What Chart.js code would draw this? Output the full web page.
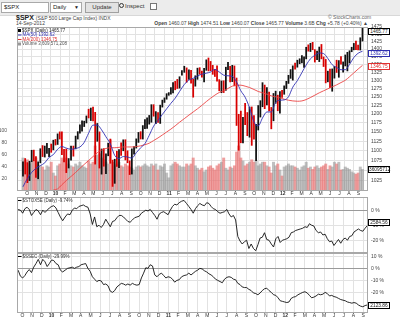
<!DOCTYPE html>
<html>
<head>
<meta charset="utf-8">
<script src="https://cdn.jsdelivr.net/npm/chart.js@4.4.0/dist/chart.umd.min.js"></script>
<style>
body { margin: 0; width: 400px; height: 322px; background: #fff; position: relative; overflow: hidden; font-family: "Liberation Sans", Arial, sans-serif; color: #222; }
.abs { position: absolute; white-space: nowrap; }
canvas { position: absolute; left: 0; }
#toolbar { left: 0; top: 0; width: 400px; height: 15px; background: #ececec; border-bottom: 1px solid #d8d8d8; }
.field { position: absolute; top: 2px; height: 9px; border: 1px solid #a9a9a9; background: #fff; font-size: 6px; line-height: 9px; padding-left: 2px; box-sizing: content-box; }
.btn { position: absolute; top: 2px; height: 9px; border: 1px solid #a0a0a0; background: #e2e2e2; font-size: 6px; line-height: 9px; text-align: center; color: #333; }
.small { font-size: 5px; line-height: 5px; }
.leg { font-size: 9px; line-height: 9px; transform: scale(0.5); transform-origin: 0 0; }
.ic { display: inline-block; width: 6px; height: 6px; margin-right: 2px; vertical-align: middle; }
.ln { display: inline-block; width: 7px; height: 2px; margin-right: 2px; vertical-align: middle; }
.vbox { position: absolute; left: 368px; width: 20px; height: 5px; border: 1px solid #000; background: #fff; font-size: 4.8px; line-height: 5px; text-align: center; }
</style>
</head>
<body>
<div id="toolbar" class="abs">
  <div class="field" style="left:1px;width:44px">$SPX</div>
  <div class="field" style="left:50px;width:28px">Daily <span style="position:absolute;right:2px;font-size:5px">&#9660;</span></div>
  <div class="btn" style="left:85px;width:32px">Update</div>
  <div class="abs" style="left:119px;top:3px;font-size:6px;line-height:7px;color:#333"><span style="display:inline-block;width:3px;height:3px;border:1px solid #333;border-radius:50%;margin-right:1px"></span>Inspect</div>
  <div class="abs" style="left:150px;top:3px;width:5px;height:5px;border:1px solid #777;background:#fff"></div>
</div>

<div class="abs" style="left:16px;top:14px;font-size:7px;line-height:7px"><b>$SPX</b> <span style="font-size:5px;color:#444">(S&amp;P 500 Large Cap Index) INDX</span></div>
<div class="abs small" style="left:16px;top:21px;color:#444">14-Sep-2012</div>
<div class="abs small" style="left:328px;top:15px;color:#666">&copy; StockCharts.com</div>
<div class="abs small" style="right:32px;top:21px;color:#444"><b>Open</b> 1460.07 <b>High</b> 1474.51 <b>Low</b> 1460.07 <b>Close</b> 1465.77 <b>Volume</b> 3.6B <b>Chg</b> +5.78 (+0.40%) &#9650;</div>

<canvas id="main" width="400" height="177" style="top:20px;width:400px;height:177px"></canvas>
<canvas id="stoxx" width="400" height="56" style="top:197px;width:400px;height:56px"></canvas>
<canvas id="ssec" width="400" height="69" style="top:253px;width:400px;height:69px"></canvas>

<div class="abs leg" style="left:18px;top:28px">
  <div><span class="ic" style="background:#000"></span>$SPX (Daily) 1465.77</div>
  <div style="color:#3030b0"><span class="ln" style="background:#3030b0"></span>MA(50) 1392.62</div>
  <div style="color:#e03030"><span class="ln" style="background:#e03030"></span>MA(200) 1346.75</div>
  <div style="color:#555"><span class="ic" style="background:#999"></span>Volume 3,609,571,208</div>
</div>
<div class="abs leg" style="left:18px;top:198px;color:#333"><span class="ln" style="background:#000"></span>$STOX5E (Daily) -9.74%</div>
<div class="abs leg" style="left:18px;top:254px;color:#333"><span class="ln" style="background:#000"></span>$SSEC (Daily) -29.99%</div>

<div class="vbox" style="top:28px">1465.77</div>
<div class="vbox" style="top:50px;border-color:#3030b0;color:#3030b0">1392.62</div>
<div class="vbox" style="top:63px;border-color:#e03030;color:#e03030">1346.75</div>
<div class="vbox" style="top:166px">36095712</div>
<div class="vbox" style="top:219px">2584.56</div>
<div class="vbox" style="top:302px">2123.86</div>

<script>
// weekly bars, Fridays from 18-Sep-2009 to 14-Sep-2012
const weekCount = 157
const firstFriday = Date.UTC(2009, 8, 18)

const monthLabels = ['O','N','D','10','F','M','A','M','J','J','A','S','O','N','D','11','F','M','A','M','J','J','A','S','O','N','D','12','F','M','A','M','J','J','A','S']
const priceTicks = [1025, 1050, 1075, 1100, 1125, 1150, 1175, 1200, 1225, 1250, 1275, 1300, 1325, 1350, 1375, 1400, 1425, 1450, 1475]
const volumeTicks = [20, 40, 60, 80, 100]
const stoxxTicks = [0, -10, -20]
const ssecTicks = [10, 0, -10, -20]

const spxHigh = [
  1071.5, 1080.0, 1069.6, 1073.0, 1101.4, 1101.8, 1085.0, 1071.5, 1105.4, 1113.7, 1112.4, 1119.7, 1106.5, 1117.7, 1128.0, 1130.0,
  1145.0, 1150.4, 1150.5, 1103.7, 1104.7, 1080.0, 1112.0, 1112.4, 1139.0, 1151.0, 1170.0, 1181.0, 1180.0, 1194.7, 1213.9, 1217.3, 1219.8,
  1205.0, 1173.6, 1150.4, 1104.7, 1105.7, 1092.0, 1120.0, 1131.0, 1076.0, 1078.2, 1099.0, 1103.0, 1121.0, 1129.0, 1129.2, 1100.0, 1074.0,
  1105.0, 1110.9, 1131.5, 1148.9, 1151.0, 1167.7, 1184.4, 1189.4, 1196.1, 1227.0, 1227.0, 1207.0, 1204.5, 1225.6, 1240.4, 1247.0, 1259.4, 1262.6,
  1278.0, 1293.2, 1296.7, 1302.7, 1311.0, 1330.0, 1344.0, 1338.8, 1332.3, 1331.0, 1303.0, 1314.0, 1337.9, 1339.5, 1328.6, 1337.5, 1364.6,
  1370.6, 1359.4, 1346.8, 1334.0, 1345.2, 1302.0, 1298.0, 1298.6, 1341.0, 1356.5, 1343.8, 1347.0, 1345.0, 1307.0, 1199.4, 1208.5, 1190.7,
  1230.7, 1204.4, 1220.0, 1220.4, 1195.9, 1171.4, 1224.6, 1238.7, 1292.7, 1285.4, 1277.6, 1264.2, 1219.0, 1260.0, 1267.0, 1255.0, 1265.4, 1269.4,
  1283.0, 1296.8, 1315.5, 1333.5, 1345.3, 1354.0, 1363.4, 1368.0, 1378.0, 1374.0, 1405.9, 1414.0, 1419.2, 1422.4, 1398.0, 1392.8, 1406.6,
  1415.3, 1373.9, 1365.9, 1328.5, 1334.9, 1335.5, 1343.3, 1363.5, 1362.2, 1374.8, 1357.9, 1380.4, 1389.2, 1394.2, 1405.9, 1418.7, 1426.7, 1413.5,
  1437.9, 1474.5
]
const spxLow = [
  1036.0, 1041.0, 1019.9, 1025.0, 1072.0, 1074.0, 1033.0, 1029.4, 1069.0, 1085.0, 1083.7, 1093.0, 1085.0, 1096.0, 1102.5, 1115.0,
  1116.6, 1131.0, 1090.0, 1071.6, 1044.5, 1056.0, 1075.5, 1086.0, 1105.0, 1131.0, 1147.0, 1152.6, 1165.0, 1175.0, 1189.0, 1181.6, 1181.0,
  1065.8, 1125.0, 1055.9, 1040.8, 1060.5, 1042.2, 1087.0, 1067.9, 1010.9, 1018.3, 1060.0, 1056.9, 1088.0, 1100.0, 1076.3, 1069.2, 1039.7,
  1040.9, 1091.0, 1107.0, 1122.0, 1131.0, 1131.0, 1159.0, 1159.7, 1171.7, 1177.0, 1194.0, 1173.0, 1176.8, 1173.6, 1220.0, 1233.5, 1243.0, 1254.5,
  1257.6, 1262.0, 1271.0, 1275.0, 1276.0, 1316.0, 1324.6, 1294.0, 1302.6, 1291.0, 1249.0, 1282.0, 1303.0, 1318.9, 1309.7, 1294.7, 1331.0,
  1329.2, 1330.0, 1318.5, 1311.8, 1297.0, 1268.0, 1262.3, 1262.7, 1269.4, 1333.5, 1295.0, 1295.9, 1282.9, 1168.0, 1101.5, 1121.1, 1121.0,
  1170.5, 1140.0, 1136.0, 1114.2, 1131.0, 1074.8, 1155.5, 1191.5, 1221.0, 1215.4, 1226.6, 1209.0, 1158.7, 1181.0, 1231.0, 1209.5, 1202.4, 1248.6,
  1257.6, 1274.6, 1290.3, 1306.0, 1300.5, 1335.0, 1341.0, 1352.0, 1354.9, 1340.0, 1367.7, 1392.9, 1391.6, 1397.5, 1357.4, 1365.4, 1358.8,
  1367.8, 1343.1, 1292.0, 1295.2, 1277.8, 1266.7, 1306.6, 1324.4, 1309.3, 1350.6, 1325.4, 1345.0, 1329.2, 1354.7, 1391.0, 1397.3, 1398.0, 1397.0,
  1396.6, 1426.7
]
const spxClose = [
  1068.3, 1044.4, 1025.2, 1071.5, 1087.7, 1079.6, 1036.2, 1069.3, 1093.5, 1091.4, 1091.5, 1106.0, 1106.4, 1102.5, 1126.5, 1115.1,
  1145.0, 1136.0, 1091.8, 1073.9, 1066.2, 1075.5, 1109.2, 1104.5, 1138.7, 1150.0, 1159.9, 1166.6, 1178.1, 1194.4, 1192.1, 1217.3, 1186.7,
  1110.9, 1135.7, 1087.7, 1089.4, 1064.9, 1091.6, 1117.5, 1076.8, 1022.6, 1078.0, 1064.9, 1102.7, 1101.6, 1121.6, 1079.3, 1071.7, 1064.6,
  1104.5, 1109.6, 1125.6, 1148.7, 1146.2, 1165.2, 1176.2, 1183.1, 1183.3, 1225.9, 1199.2, 1199.7, 1189.4, 1224.7, 1240.4, 1243.9, 1256.8, 1257.6,
  1271.5, 1293.2, 1283.4, 1276.3, 1310.9, 1329.2, 1343.0, 1319.9, 1321.2, 1304.3, 1279.2, 1313.8, 1332.4, 1328.2, 1319.7, 1337.4, 1363.6,
  1340.2, 1337.8, 1333.3, 1331.1, 1300.2, 1271.0, 1271.5, 1268.5, 1339.7, 1343.8, 1316.1, 1345.0, 1292.3, 1199.4, 1178.8, 1123.5, 1176.8,
  1174.0, 1154.2, 1216.0, 1136.4, 1131.4, 1155.5, 1224.6, 1238.3, 1285.1, 1253.2, 1263.9, 1215.7, 1158.7, 1244.3, 1255.2, 1219.7, 1265.3, 1257.6,
  1277.8, 1289.1, 1315.4, 1316.3, 1344.9, 1342.6, 1361.2, 1365.7, 1370.0, 1370.9, 1404.2, 1397.1, 1408.5, 1398.1, 1370.3, 1378.5, 1403.4,
  1369.1, 1353.4, 1295.2, 1317.8, 1278.0, 1325.7, 1342.8, 1335.0, 1362.2, 1354.7, 1356.8, 1362.7, 1386.0, 1391.0, 1405.9, 1418.2, 1411.1, 1406.6,
  1437.9, 1465.8
]
// volume, hundreds of millions of shares
const spxVolume = [
  55, 50, 52, 45, 48, 50, 55, 45, 42, 40, 35, 42, 40, 48, 30, 25,
  42, 45, 55, 52, 55, 45, 42, 40, 45, 42, 48, 42, 40, 38, 50, 45, 48,
  75, 60, 62, 55, 52, 48, 45, 85, 48, 42, 45, 48, 42, 40, 45, 42, 40,
  38, 35, 40, 42, 40, 42, 45, 42, 40, 45, 42, 45, 35, 42, 40, 45, 30, 22,
  42, 45, 48, 45, 42, 40, 40, 45, 42, 45, 55, 42, 38, 35, 38, 32, 35,
  40, 42, 38, 35, 42, 45, 48, 55, 38, 35, 40, 38, 42, 65, 75, 55, 50,
  42, 45, 48, 52, 48, 50, 42, 45, 48, 48, 42, 40, 30, 48, 42, 45, 35, 25,
  40, 42, 45, 42, 42, 40, 38, 35, 40, 42, 48, 38, 40, 36, 40, 42, 38,
  40, 42, 45, 36, 42, 40, 48, 45, 48, 35, 36, 40, 38, 36, 32, 30, 28, 30,
  40, 36
]
// moving averages, one value every second week
const ma50 = [
  1010, 1030, 1045, 1055, 1062, 1069, 1083, 1090, 1104, 1111, 1107, 1104, 1106, 1110, 1122, 1147,
  1169, 1169, 1156, 1137, 1118, 1088, 1080, 1085, 1084, 1081, 1095, 1108, 1119, 1141, 1166, 1182,
  1199, 1215, 1231, 1246, 1266, 1287, 1301, 1306, 1313, 1319, 1322, 1326, 1334, 1326, 1316, 1314,
  1312, 1295, 1268, 1249, 1218, 1178, 1167, 1189, 1206, 1206, 1234, 1240, 1241, 1250, 1279, 1299,
  1324, 1348, 1368, 1379, 1387, 1385, 1369, 1349, 1340, 1333, 1333, 1350, 1372, 1386, 1392.62
]
const ma200 = [
  925, 940, 952, 962, 975, 985, 995, 1002, 1005, 1015, 1025, 1035, 1045, 1055, 1065, 1075,
  1085, 1095, 1102, 1106, 1108, 1108, 1109, 1110, 1110, 1110, 1111, 1113, 1116, 1120, 1127, 1134,
  1142, 1150, 1158, 1167, 1177, 1187, 1197, 1206, 1215, 1225, 1236, 1246, 1255, 1263, 1268, 1275,
  1282, 1285, 1285, 1282, 1278, 1272, 1266, 1262, 1258, 1253, 1250, 1247, 1243, 1240, 1238, 1237,
  1238, 1242, 1248, 1255, 1262, 1268, 1274, 1280, 1286, 1293, 1300, 1311, 1323, 1335, 1346.75
]
// percent change since the first bar
const stoxxPct = [
  1.0, 0.5, -1.5, 1.5, 2.5, 1.0, -3.0, -1.0, 1.0, 0.0, -2.5, 0.5, -1.0, 0.5, 2.0, 3.0,
  3.5, 2.0, -1.0, -4.0, -6.5, -4.0, -2.0, -2.5, 0.5, 2.0, 1.5, 3.0, 3.5, 4.0, 3.0, 2.5, -2.0,
  -9.0, -4.0, -10.5, -9.5, -11.0, -9.0, -5.5, -8.0, -10.5, -7.0, -6.5, -4.5, -3.0, -3.0, -4.0, -5.5, -7.0,
  -7.5, -6.0, -4.5, -4.0, -3.5, -1.5, -0.5, 0.5, 0.0, 1.0, -1.0, -3.0, -5.5, -2.0, -1.0, -0.5, -1.5, -2.5,
  0.5, 3.0, 4.5, 4.0, 5.5, 6.5, 7.0, 5.0, 3.0, 1.0, -1.5, 1.5, 3.5, 5.0, 4.0, 3.5, 5.5,
  5.0, 3.0, 1.5, 1.0, -0.5, -1.5, -1.0, -0.5, 1.0, -2.0, -4.0, -3.0, -6.0, -17.0, -20.0, -22.0, -20.5,
  -19.5, -25.0, -22.0, -25.0, -26.5, -22.5, -18.0, -17.5, -14.5, -19.0, -19.5, -22.0, -24.0, -18.5, -17.0, -21.0, -19.5, -19.0,
  -18.5, -17.5, -14.5, -14.0, -13.0, -12.5, -12.0, -11.5, -10.5, -11.0, -8.5, -9.5, -10.0, -13.0, -14.5, -14.0, -16.0,
  -15.5, -18.5, -20.5, -20.0, -23.0, -21.0, -19.0, -21.5, -19.0, -18.0, -19.5, -17.0, -16.5, -14.0, -13.0, -12.0, -13.0, -13.5,
  -11.5, -9.74
]
const ssecPct = [
  -1.0, -6.0, -7.5, -5.5, -2.5, -0.5, -3.0, 1.5, 4.5, 8.0, 3.5, 8.0, 6.0, 2.0, 4.5, 7.5,
  7.0, 4.5, 3.5, -1.0, -2.5, -1.0, 0.5, 1.0, 1.5, 0.5, 1.5, 2.0, 3.5, 4.0, 4.5, 0.5, -2.0,
  -6.5, -8.5, -10.5, -9.5, -10.0, -13.0, -12.5, -14.0, -18.5, -19.5, -18.0, -15.0, -13.5, -12.0, -12.5, -13.5, -12.5,
  -13.5, -12.0, -13.0, -13.5, -13.0, -7.5, -3.5, 1.0, 0.5, 3.5, 2.5, -5.0, -6.5, -4.5, -3.5, -5.5, -7.5, -6.5,
  -7.0, -8.5, -11.0, -9.5, -9.0, -6.5, -5.5, -5.0, -3.5, -5.0, -3.5, -2.0, -1.0, 0.5, 0.0, -1.5, -2.5,
  -4.0, -5.0, -6.5, -8.5, -9.5, -10.5, -11.5, -8.5, -7.0, -6.5, -7.0, -8.5, -9.0, -12.0, -13.0, -15.0, -15.5,
  -15.5, -17.0, -18.0, -20.0, -20.5, -21.5, -20.0, -18.0, -16.5, -16.0, -18.0, -19.5, -21.5, -22.0, -24.0, -26.5, -27.0, -27.5,
  -28.0, -27.5, -24.5, -23.5, -23.0, -21.5, -20.5, -19.5, -19.0, -20.0, -22.0, -24.0, -23.5, -22.5, -21.0, -21.5, -21.0,
  -19.5, -20.5, -22.5, -22.0, -23.0, -23.5, -24.5, -25.5, -26.0, -26.5, -27.5, -28.0, -28.5, -28.0, -28.5, -30.0, -31.0, -31.5,
  -30.5, -29.99
]

Chart.defaults.font.family = '"Liberation Sans", Arial, sans-serif'
Chart.defaults.font.size = 5
Chart.defaults.color = '#444'
Chart.defaults.animation = false

// x position of each week, in months counted from 1-Oct-2009
const weekX = []
for (let i = 0; i < weekCount; i++) {
  const d = new Date(firstFriday + i * 7 * 86400000)
  const y = d.getUTCFullYear(), m = d.getUTCMonth()
  const dim = new Date(Date.UTC(y, m + 1, 0)).getUTCDate()
  weekX.push((y - 2009) * 12 + m - 9 + (d.getUTCDate() - 1) / dim)
}
const X_MIN = -0.55
const X_MAX = 35.5
const GRID = '#e2e2e2'

const frame = {
  id: 'frame',
  afterDraw(chart) {
    const { ctx, chartArea: a } = chart
    ctx.save()
    ctx.strokeStyle = '#a8a8a8'
    ctx.lineWidth = 1
    ctx.strokeRect(a.left + 0.5, a.top + 0.5, a.right - a.left - 1, a.bottom - a.top - 1)
    ctx.restore()
  }
}

function noPad(s) {
  s.paddingTop = 0; s.paddingBottom = 0; s.paddingLeft = 0; s.paddingRight = 0
}

function xAxis(labelHeight) {
  return {
    type: 'linear', min: X_MIN, max: X_MAX, bounds: 'data',
    grid: { color: GRID, drawTicks: false },
    border: { display: false },
    ticks: {
      display: labelHeight > 0, autoSkip: false, maxRotation: 0, padding: 0, color: '#333',
      callback: v => monthLabels[v],
      font: ctx => ({ size: 5, weight: ctx.tick && /\d/.test(monthLabels[ctx.tick.value]) ? 'bold' : 'normal' })
    },
    afterBuildTicks: s => { s.ticks = monthLabels.map((_, i) => ({ value: i })) },
    afterFit: s => { s.height = labelHeight; noPad(s) }
  }
}

function rightAxis(opts, tickValues, fmt, zeroLine) {
  return Object.assign({
    position: 'right', bounds: 'data',
    grid: { color: ctx => (zeroLine && ctx.tick && ctx.tick.value === 0) ? '#9a9a9a' : GRID, drawTicks: false },
    border: { display: false },
    ticks: { padding: 3, color: '#444', callback: fmt },
    afterBuildTicks: s => { s.ticks = tickValues.map(v => ({ value: v })) },
    afterFit: s => { s.width = 32; noPad(s) }
  }, opts)
}

// main price panel
const priceBars = weekX.map((x, i) => ({ x, y: [spxLow[i], spxHigh[i]] }))
const downWeek = spxClose.map((c, i) => i > 0 && c < spxClose[i - 1])

new Chart(document.getElementById('main'), {
  data: {
    datasets: [
      {
        type: 'bar', label: 'Volume', yAxisID: 'vol', order: 4, grouped: false,
        data: weekX.map((x, i) => ({ x, y: spxVolume[i] })),
        backgroundColor: downWeek.map(d => d ? 'rgba(232,120,120,0.7)' : 'rgba(150,150,150,0.6)'),
        barThickness: 2.3
      },
      {
        type: 'bar', label: '$SPX', yAxisID: 'y', order: 3, grouped: false,
        data: priceBars,
        backgroundColor: downWeek.map(d => d ? '#d80000' : '#111'),
        barThickness: 1.1
      },
      {
        type: 'line', label: 'MA(200)', yAxisID: 'y', order: 2,
        data: ma200.map((v, k) => ({ x: weekX[k * 2], y: v })),
        borderColor: 'rgba(235,70,70,0.9)', borderWidth: 1, pointRadius: 0, cubicInterpolationMode: 'monotone'
      },
      {
        type: 'line', label: 'MA(50)', yAxisID: 'y', order: 1,
        data: ma50.map((v, k) => ({ x: weekX[k * 2], y: v })),
        borderColor: 'rgba(50,50,180,0.9)', borderWidth: 1, pointRadius: 0, cubicInterpolationMode: 'monotone'
      }
    ]
  },
  options: {
    responsive: false,
    layout: { padding: { top: 7, left: 0, right: 0, bottom: 0 } },
    plugins: { legend: { display: false }, tooltip: { enabled: false } },
    scales: {
      x: xAxis(6),
      y: rightAxis({ type: 'logarithmic', min: 1000, max: 1475 }, priceTicks, v => String(v)),
      vol: {
        type: 'linear', position: 'left', min: 0, max: 273, bounds: 'data',
        grid: { display: false }, border: { display: false },
        ticks: { padding: 2, color: '#555' },
        afterBuildTicks: s => { s.ticks = volumeTicks.map(v => ({ value: v })) },
        afterFit: s => { s.width = 17; noPad(s) }
      }
    }
  },
  plugins: [frame]
})

// lower panels
function pctPanel(id, values, min, max, ticks, labelHeight) {
  new Chart(document.getElementById(id), {
    type: 'line',
    data: {
      datasets: [{
        data: weekX.map((x, i) => ({ x, y: values[i] })),
        borderColor: '#111', borderWidth: 0.9, pointRadius: 0, tension: 0
      }]
    },
    options: {
      responsive: false,
      layout: { padding: { top: 0, left: 17, right: 0, bottom: 0 } },
      plugins: { legend: { display: false }, tooltip: { enabled: false } },
      scales: {
        x: xAxis(labelHeight),
        y: rightAxis({ type: 'linear', min, max }, ticks, v => v + ' %', true)
      }
    },
    plugins: [frame]
  })
}

pctPanel('stoxx', stoxxPct, -28.0, 9.3, stoxxTicks, 0)
pctPanel('ssec', ssecPct, -36.7, 13.3, ssecTicks, 9)
</script>
</body>
</html>
